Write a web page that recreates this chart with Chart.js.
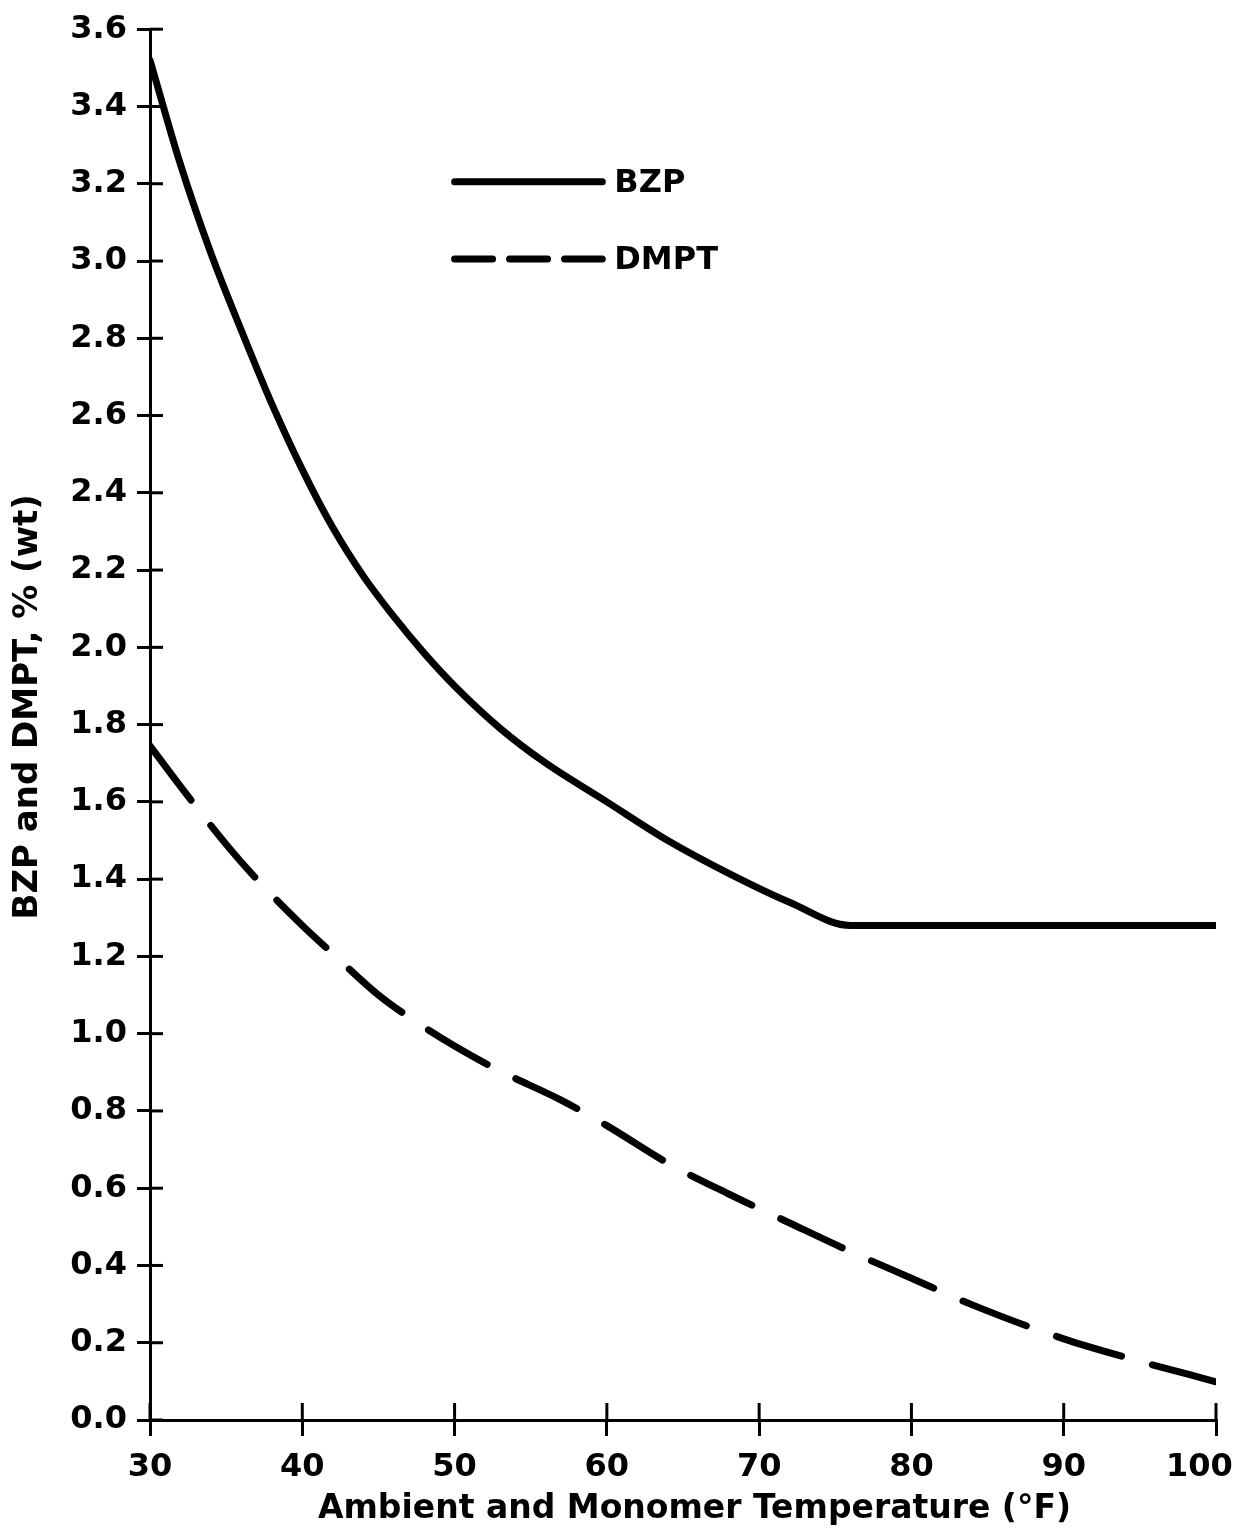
<!DOCTYPE html>
<html>
<head>
<meta charset="utf-8">
<script src="https://cdn.jsdelivr.net/npm/chart.js@4.4.1/dist/chart.umd.min.js"></script>
<style>
  html, body { margin: 0; padding: 0; background: #fff; }
  #wrap { width: 1238px; height: 1533px; }
</style>
</head>
<body>
<div id="wrap"><canvas id="myChart"></canvas></div>
<script>
const ctx = document.getElementById('myChart');

// readings (temperature in °F, weight %)
const bzpTemps = [30, 32, 34, 36, 38, 40, 42, 44, 46, 48, 50, 53, 56, 60, 64, 68, 72, 76, 100];
const bzpValues = [3.52, 3.25, 3.02, 2.82, 2.63, 2.46, 2.31, 2.185, 2.08, 1.985, 1.90, 1.79, 1.70, 1.60, 1.50, 1.415, 1.34, 1.28, 1.28];

const dmptTemps = [30, 32, 35, 37, 40, 42, 45, 47, 50, 53, 57, 60, 64, 68, 72, 76, 80, 84, 90, 95, 100];
const dmptValues = [1.745, 1.64, 1.49, 1.40, 1.28, 1.207, 1.10, 1.043, 0.968, 0.903, 0.828, 0.762, 0.665, 0.585, 0.51, 0.436, 0.367, 0.298, 0.21, 0.152, 0.099];

const xTickLabels = ['30', '40', '50', '60', '70', '80', '90', '100'];
const yTickLabels = ['0.0', '0.2', '0.4', '0.6', '0.8', '1.0', '1.2', '1.4', '1.6', '1.8',
                     '2.0', '2.2', '2.4', '2.6', '2.8', '3.0', '3.2', '3.4', '3.6'];

const toPoints = (xs, ys) => xs.map((x, i) => ({ x: x, y: ys[i] }));

Chart.defaults.font.family = "'DejaVu Sans', sans-serif";
Chart.defaults.font.weight = 'bold';
Chart.defaults.font.size = 32;
Chart.defaults.color = '#000';

// tick marks cross the axis lines, and the key sits inside the plot
const extras = {
    id: 'extras',
    afterDraw(chart) {
        const c = chart.ctx;
        const xs = chart.scales.x;
        const ys = chart.scales.y;
        c.save();
        c.strokeStyle = '#000';
        c.lineWidth = 3;
        ys.ticks.forEach(t => {
            const y = ys.getPixelForValue(t.value);
            c.beginPath();
            c.moveTo(xs.left, y);
            c.lineTo(xs.left + 13, y);
            c.stroke();
        });
        xs.ticks.forEach(t => {
            const x = xs.getPixelForValue(t.value);
            c.beginPath();
            c.moveTo(x, ys.bottom);
            c.lineTo(x, ys.bottom - 17);
            c.stroke();
        });

        // key
        const x0 = xs.getPixelForValue(50);
        const x1 = xs.getPixelForValue(59.7);
        c.lineCap = 'round';
        c.lineWidth = 7;
        chart.data.datasets.forEach((ds, i) => {
            const y = ys.getPixelForValue(3.2 - i * 0.2) - 2;
            c.setLineDash(ds.borderDash ? [38, 17] : []);
            c.beginPath();
            c.moveTo(x0, y);
            c.lineTo(x1, y);
            c.stroke();
            c.setLineDash([]);
            c.fillStyle = '#000';
            c.font = "bold 32px 'DejaVu Sans'";
            c.textBaseline = 'middle';
            c.textAlign = 'left';
            c.fillText(ds.label, x1 + 12, y + 2);
        });
        c.restore();
    }
};

const myChart = new Chart(ctx, {
    type: 'line',
    data: {
        datasets: [
            {
                label: 'BZP',
                data: toPoints(bzpTemps, bzpValues),
                borderColor: '#000',
                borderWidth: 7,
                pointRadius: 0,
                cubicInterpolationMode: 'monotone',
                borderCapStyle: 'round'
            },
            {
                label: 'DMPT',
                data: toPoints(dmptTemps, dmptValues),
                borderColor: '#000',
                borderWidth: 7,
                borderDash: [68, 32],
                pointRadius: 0,
                cubicInterpolationMode: 'monotone',
                borderCapStyle: 'round'
            }
        ]
    },
    options: {
        responsive: true,
        maintainAspectRatio: false,
        animation: false,
        layout: {
            padding: { top: 29, right: 22, left: 0, bottom: 0 }
        },
        scales: {
            x: {
                type: 'linear',
                min: 30,
                max: 100,
                afterFit: function(scale) {
                    scale.height = 113;
                    scale.paddingRight = 0;
                    scale.paddingLeft = 0;
                },
                grid: {
                    drawOnChartArea: false,
                    color: '#000',
                    lineWidth: 3,
                    tickLength: 16
                },
                border: { color: '#000', width: 3 },
                ticks: {
                    stepSize: 10,
                    padding: 12,
                    maxRotation: 0,
                    callback: function(value, index) {
                        const s = xTickLabels[index];
                        return s === '100' ? s + '   ' : s;
                    }
                },
                title: {
                    display: true,
                    text: '  Ambient and Monomer Temperature (°F)',
                    font: { size: 33, weight: 'bold' },
                    padding: { top: 0, bottom: 4 }
                }
            },
            y: {
                min: 0,
                max: 3.6,
                afterFit: function(scale) {
                    scale.width = 150;
                },
                grid: {
                    drawOnChartArea: false,
                    color: '#000',
                    lineWidth: 3,
                    tickLength: 13
                },
                border: { color: '#000', width: 3 },
                ticks: {
                    stepSize: 0.2,
                    padding: 10,
                    callback: function(value, index) {
                        return yTickLabels[index];
                    }
                },
                title: {
                    display: true,
                    text: '   BZP and DMPT, % (wt)',
                    font: { size: 34, weight: 'bold' },
                    padding: { top: 8, bottom: 0 }
                }
            }
        },
        plugins: {
            legend: { display: false },
            tooltip: { enabled: false }
        }
    },
    plugins: [extras]
});
</script>
</body>
</html>
